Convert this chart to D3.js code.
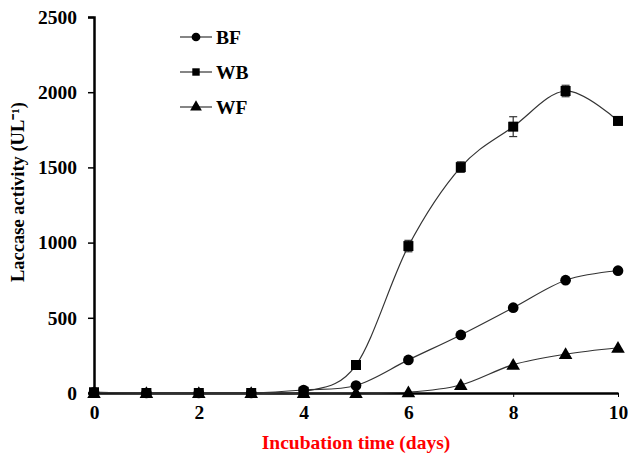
<!DOCTYPE html>
<html>
<head>
<meta charset="utf-8">
<script src="https://cdn.jsdelivr.net/npm/d3@7"></script>
<style>
body { margin: 0; background: #fff; }
text { font-family: "Liberation Serif", "Times New Roman", serif; font-weight: bold; }
</style>
</head>
<body>
<script>
var width = 628,
    height = 456;

var days = [0, 1, 2, 3, 4, 5, 6, 7, 8, 9, 10];
var bf = [5, 0, 0, 0, 20, 50, 220, 386, 567, 750, 813];
var wb = [5, 0, 0, 0, 8, 186, 977, 1502, 1771, 2008, 1809];
var wbErr = [0, 0, 0, 0, 0, 10, 38, 35, 66, 38, 28];
var wf = [0, 0, 0, 0, 0, 0, 5, 53, 188, 258, 301];
var xTicks = [0, 2, 4, 6, 8, 10];
var yTicks = [0, 500, 1000, 1500, 2000, 2500];

var svg = d3.select("body").append("svg")
    .attr("width", width)
    .attr("height", height)

var x = d3.scaleLinear().domain([0, 10]).range([94, 618]);
var y = d3.scaleLinear().domain([0, 2500]).range([393, 17]);

/* axes */
var yAxis = svg.append("g")
    .attr("transform", "translate(94,0)")
    .call(d3.axisLeft(y).tickValues(yTicks).tickSize(6).tickPadding(11).tickFormat(d3.format("d")))
yAxis.select(".domain").attr("stroke-width", 2.5)
yAxis.selectAll(".tick line").attr("stroke-width", 1.5)
yAxis.selectAll("text").attr("font-size", 19.5).attr("fill", "#000")

var xAxis = svg.append("g")
    .attr("transform", "translate(0,393)")
    .call(d3.axisBottom(x).tickValues(xTicks).tickSize(4).tickPadding(8).tickSizeOuter(0))
xAxis.select(".domain").attr("stroke-width", 2.5)
xAxis.selectAll(".tick line").attr("stroke-width", 1)
xAxis.selectAll("text").attr("font-size", 19.5).attr("fill", "#000")

/* titles */
svg.append("text")
    .attr("x", 356)
    .attr("y", 449)
    .attr("text-anchor", "middle")
    .attr("font-size", 19.5)
    .attr("fill", "#ff0000")
    .text("Incubation time (days)")

svg.append("text")
    .attr("transform", "translate(24,192) rotate(-90)")
    .attr("text-anchor", "middle")
    .attr("font-size", 18.5)
    .attr("fill", "#000")
    .text("Laccase activity (UL⁻¹)")

var line = d3.line()
    .x(function (d, i) { return x(days[i]) })
    .y(function (d) { return y(d) })
    .curve(d3.curveCatmullRom.alpha(0))

var series = [
    { name: "BF", values: bf, symbol: d3.symbolCircle, size: 90 },
    { name: "WB", values: wb, symbol: d3.symbolSquare, size: 100 },
    { name: "WF", values: wf, symbol: d3.symbolTriangle, size: 80 }
]

series.forEach(function (s) {
    svg.append("path")
        .attr("d", line(s.values))
        .attr("fill", "none")
        .attr("stroke", "#333")
        .attr("stroke-width", 1.2)
})

/* error bars for WB */
var eb = svg.append("g")
wb.forEach(function (v, i) {
    if (!wbErr[i]) return
    var cx = x(days[i])
    eb.append("line").attr("x1", cx).attr("x2", cx)
        .attr("y1", y(v + wbErr[i])).attr("y2", y(v - wbErr[i]))
        .attr("stroke", "#333").attr("stroke-width", 1.2)
    ;[v + wbErr[i], v - wbErr[i]].forEach(function (e) {
        eb.append("line").attr("x1", cx - 4).attr("x2", cx + 4)
            .attr("y1", y(e)).attr("y2", y(e))
            .attr("stroke", "#333").attr("stroke-width", 1.2)
    })
})

series.forEach(function (s) {
    svg.append("g").selectAll("path")
        .data(s.values)
        .enter()
        .append("path")
        .attr("transform", function (d, i) {
            return "translate(" + x(days[i]) + "," + (y(d) + (s.symbol === d3.symbolTriangle ? 1 : 0)) + ")"
        })
        .attr("d", d3.symbol().type(s.symbol).size(s.size))
        .attr("fill", "#000")
})

/* legend */
var leg = svg.selectAll(".leg")
    .data(series)
    .enter()
    .append("g")
    .attr("class", "leg")
    .attr("transform", function (d, i) {
        return "translate(180," + (37 + i * 35) + ")"
    })
leg.append("line")
    .attr("x1", 0).attr("x2", 32)
    .attr("stroke", "#333").attr("stroke-width", 1.2)
leg.append("path")
    .attr("transform", "translate(16,0)")
    .attr("d", function (d) {
        return d3.symbol().type(d.symbol).size(d.symbol === d3.symbolSquare ? 55 : 60)()
    })
    .attr("fill", "#000")
leg.append("text")
    .attr("x", 36)
    .attr("y", 6.5)
    .attr("font-size", 19.5)
    .attr("fill", "#000")
    .text(function (d) { return d.name })
</script>
</body>
</html>
